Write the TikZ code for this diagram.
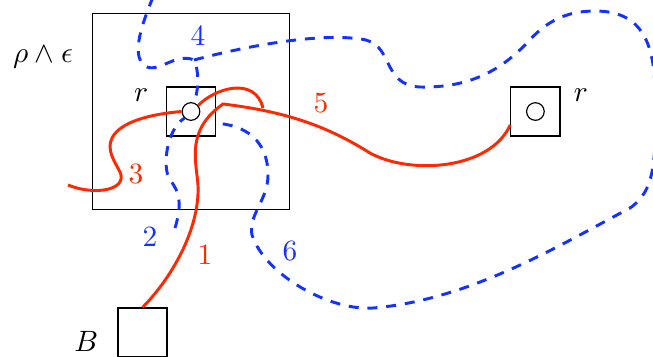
\documentclass[tikz,border=0pt]{standalone}
\usetikzlibrary{positioning}
\definecolor{strandred}{RGB}{255,40,0}
\definecolor{strandblue}{RGB}{20,50,255}
\tikzset{box/.style={draw, line width=0.4pt, inner sep=0pt}}

\begin{document}
\begin{tikzpicture}[
      x=0.34pt, y=-0.34pt,
      dot/.style={draw, circle, line width=0.4pt, inner sep=0pt, minimum size=6pt},
      redline/.style={draw=strandred, line width=1pt},
      blueline/.style={draw=strandblue, line width=1pt, dash pattern=on 3.4pt off 3pt},
      redlab/.style={text=strandred},
      bluelab/.style={text=strandblue},
  ]
      \useasboundingbox (0,0) rectangle (653,356);

      % Outer square with the small box and its puncture
      \node[box, minimum size=66.8pt] (outer) at (191,111.5) {};
      \node[box, minimum size=16.7pt] (rin) at (outer.center) {};
      \node[dot] (cin) at (rin.center) {};

      % Second box on the right
      \node[box, minimum size=16.7pt, right=100pt of rin] (rout) {};
      \node[dot] (cout) at (rout.center) {};

      % Base box at the bottom
      \node[box, minimum size=16.7pt] (base) at (142.5,332.5) {};

      % Labels of the boxes
      \node (rinlab) [above left=0pt and 2.5pt of rin.west] {$r$};
      \node (routlab) [above right=0pt and 1pt of rout.east] {$r$};
      \node (outerlab) [left=3pt of outer.north west, yshift=-15pt] {$\rho\wedge\epsilon$};
      \node (baselab) [left=3pt of base.west, yshift=-3pt] {$B$};

      % Free ends and junctions of the strands
      \coordinate (redend) at (68,185);
      \coordinate (blueend) at (175,228);
      \coordinate (topend) at (153,-3);
      \coordinate (kink) at (223,104);
      \coordinate (meet) at (263,108);
      \coordinate (fork) at (194,60);

      % Red strands
      \draw[redline] (base.north) .. controls (170,280) and (200,230) .. (198,185)
            .. controls (196,160) and (186,130) .. (kink)
            .. controls (290,112) and (330,128) .. (370,153)
            .. controls (410,175) and (490,170) .. (rout.208);
      \draw[redline] (cin.40) .. controls (215,88) and (255,76) .. (meet);
      \draw[redline] (redend) .. controls (95,196) and (128,190) .. (120,172)
            .. controls (115,162) and (106,150) .. (112,138)
            .. controls (120,122) and (150,114) .. (cin.west);

      % Blue strands
      \draw[blueline] (topend) .. controls (143,22) and (130,55) .. (145,66)
            .. controls (158,74) and (176,52) .. (fork)
            .. controls (199,70) and (199,88) .. (cin.70);
      \draw[blueline] (blueend) .. controls (182,205) and (180,192) .. (170,180)
            .. controls (162,168) and (166,130) .. (cin.225);
      \draw[blueline] (fork) .. controls (250,45) and (320,33) .. (360,39)
            .. controls (395,42) and (380,85) .. (420,87)
            .. controls (470,88) and (500,70) .. (525,45)
            .. controls (545,22) and (565,11) .. (595,11)
            .. controls (640,11) and (654,40) .. (655,90)
            .. controls (656,160) and (656,190) .. (630,208)
            .. controls (560,245) and (470,300) .. (373,308)
            .. controls (330,311) and (265,275) .. (252,235)
            .. controls (248,215) and (268,200) .. (268,175)
            .. controls (268,140) and (245,125) .. (rin.-25);

      % Strand numbers
      \node[redlab] (n1) at (205,255) {1};
      \node[bluelab] (n2) at (150,237) {2};
      \node[redlab] (n3) at (136,174) {3};
      \node[bluelab] (n4) at (198,36) {4};
      \node[redlab] (n5) at (321,103) {5};
      \node[bluelab] (n6) at (290,251) {6};

\end{tikzpicture}
\end{document}
